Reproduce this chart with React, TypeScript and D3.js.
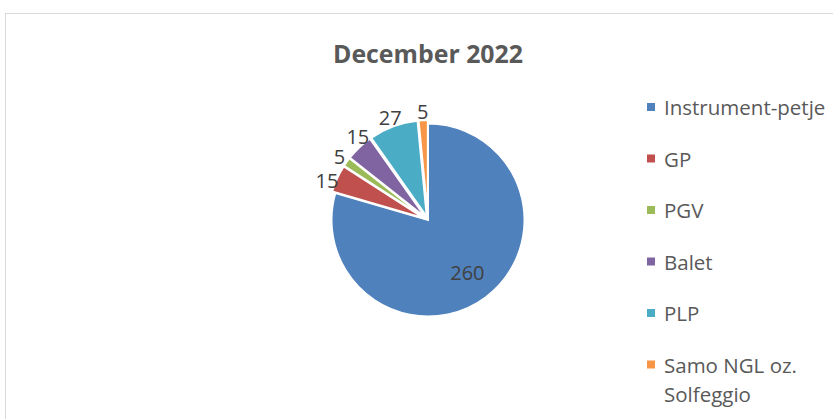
import { useEffect, useRef } from "react";
import * as d3 from "d3";

const W = 833;
const H = 419;

const categories = ["Instrument-petje", "GP", "PGV", "Balet", "PLP", "Samo NGL oz. Solfeggio"];
const values = [260, 15, 5, 15, 27, 5];
const colors = ["#4f81bd", "#c0504d", "#9bbb59", "#8064a2", "#4bacc6", "#f79646"];
const title = "December 2022";

const FONT = "'Open Sans', sans-serif";

export default function App() {
  const svgRef = useRef<SVGSVGElement>(null);

  useEffect(() => {
    if (!svgRef.current) return;
    const svg = d3.select(svgRef.current);
    svg.selectAll("*").remove();

    // chart frame (runs off the right and bottom edges)
    svg
      .append("rect")
      .attr("x", 5.5)
      .attr("y", 13.5)
      .attr("width", 900)
      .attr("height", 500)
      .attr("fill", "white")
      .attr("stroke", "#d9d9d9");

    svg
      .append("text")
      .attr("x", 428)
      .attr("y", 62.5)
      .attr("text-anchor", "middle")
      .attr("font-family", FONT)
      .attr("font-weight", "bold")
      .attr("font-size", 25)
      .attr("textLength", 190)
      .attr("lengthAdjust", "spacingAndGlyphs")
      .attr("fill", "#595959")
      .text(title);

    const cx = 428;
    const cy = 220;
    const r = 96.5;
    const explode = 3.5; // small slices are pulled out a little

    const data = categories.map((c, i) => ({ c, v: values[i], color: colors[i] }));
    const pie = d3
      .pie<{ c: string; v: number; color: string }>()
      .value((d) => d.v)
      .sort(null)
      .startAngle(0)
      .endAngle(2 * Math.PI);
    const arcs = pie(data);
    const arc = d3.arc<d3.PieArcDatum<any>>().innerRadius(0).outerRadius(r);

    const g = svg.append("g").attr("transform", `translate(${cx},${cy})`);

    arcs.forEach((a) => {
      const mid = (a.startAngle + a.endAngle) / 2;
      const big = a.endAngle - a.startAngle > Math.PI / 2;
      const off = big ? 0 : explode;
      g.append("path")
        .attr("d", arc(a) as string)
        .attr("transform", `translate(${Math.sin(mid) * off},${-Math.cos(mid) * off})`)
        .attr("fill", a.data.color)
        .attr("stroke", "white")
        .attr("stroke-width", 2)
        .attr("stroke-linejoin", "miter");
    });

    // data labels: large slice inside, the rest outside, nudged apart like Excel does
    const fs = 20;
    const labels = arcs.map((a) => {
      const mid = (a.startAngle + a.endAngle) / 2;
      const big = a.endAngle - a.startAngle > Math.PI / 2;
      return {
        v: a.data.v,
        ang: mid,
        rad: big ? r * 0.68 : r + 12,
        w: String(a.data.v).length * 0.572 * fs,
        h: 23,
        inside: big,
      };
    });
    const pos = (l: (typeof labels)[number]) => ({
      x: Math.sin(l.ang) * l.rad,
      y: -Math.cos(l.ang) * l.rad,
    });
    const outside = labels.filter((l) => !l.inside);
    for (let it = 0; it < 300; it++) {
      let moved = false;
      for (let i = 0; i < outside.length - 1; i++) {
        const a = outside[i];
        const b = outside[i + 1];
        const pa = pos(a);
        const pb = pos(b);
        const ox = (a.w + b.w) / 2 + 1 - Math.abs(pa.x - pb.x);
        const oy = (a.h + b.h) / 2 - Math.abs(pa.y - pb.y);
        if (ox > 0 && oy > 0) {
          a.ang -= 0.002;
          b.ang += 0.002;
          moved = true;
        }
      }
      if (!moved) break;
    }

    labels.forEach((l) => {
      const p = pos(l);
      g.append("text")
        .attr("x", p.x)
        .attr("y", p.y + 0.357 * fs)
        .attr("text-anchor", "middle")
        .attr("font-family", FONT)
        .attr("font-size", fs)
        .attr("fill", "#404040")
        .text(l.v);
    });

    // legend
    const lx = 647;
    const ly0 = 107;
    const step = 51.5;
    const legend = svg.append("g");
    data.forEach((d, i) => {
      const y = ly0 + i * step;
      legend
        .append("rect")
        .attr("x", lx)
        .attr("y", y - 4)
        .attr("width", 8)
        .attr("height", 8)
        .attr("fill", d.color);
      const words = d.c === "Samo NGL oz. Solfeggio" ? ["Samo NGL oz.", "Solfeggio"] : [d.c];
      words.forEach((w, j) => {
        legend
          .append("text")
          .attr("x", lx + 17)
          .attr("y", y + j * 29 + 8)
          .attr("font-family", FONT)
          .attr("font-size", 20.5)
          .attr("fill", "#595959")
          .text(w);
      });
    });
  }, []);

  return (
    <div style={{ position: "absolute", left: 0, top: 0 }}>
      <svg ref={svgRef} width={W} height={H} viewBox={`0 0 ${W} ${H}`} style={{ display: "block" }} />
    </div>
  );
}
